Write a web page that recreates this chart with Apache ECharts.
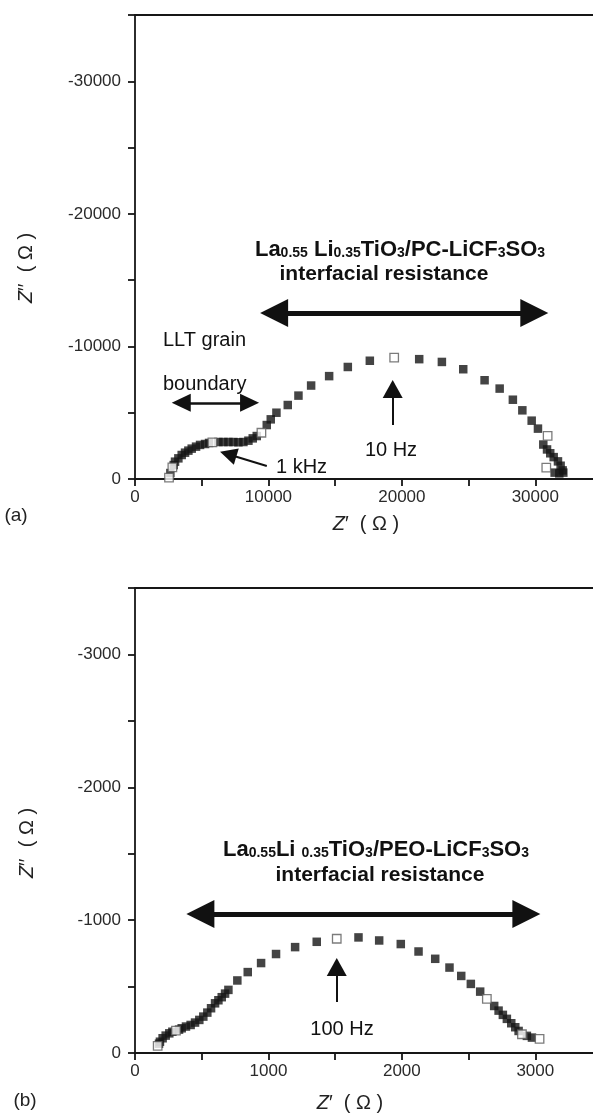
<!DOCTYPE html>
<html>
<head>
<meta charset="utf-8">
<script src="https://cdn.jsdelivr.net/npm/echarts@6/dist/echarts.min.js"></script>
<style>
html, body { margin: 0; padding: 0; background: #fff; }
#main { width: 593px; height: 1116px; }
</style>
</head>
<body>
<div id="main"></div>
<script>
// (a) LLT / PC-LiCF3SO3 impedance, Z' and Z'' in ohm
var pcFilled = [
    [2650, -450], [2900, -1050], [3000, -1306], [3250, -1558], [3500, -1810], [3750, -1985],
    [4000, -2140], [4250, -2290], [4575, -2440], [4875, -2570], [5250, -2640], [5550, -2720],
    [6250, -2790], [6625, -2790], [7000, -2790], [7375, -2790], [7750, -2770], [8125, -2790],
    [8500, -2890], [8825, -3065], [9125, -3240], [9875, -4070], [10175, -4500], [10600, -5000],
    [11450, -5580], [12250, -6290], [13200, -7050], [14550, -7760], [15950, -8450], [17600, -8920],
    [21300, -9040], [23000, -8830], [24600, -8280], [26200, -7450], [27330, -6820], [28320, -5980],
    [29030, -5180], [29730, -4400], [30200, -3800], [30600, -2600], [30880, -2230], [31120, -1940],
    [31380, -1650], [31700, -1330], [31900, -1000], [32050, -650], [31450, -480], [31800, -420],
    [32100, -480]
];
var pcOpen = [[2550, -100], [2800, -880], [5800, -2765], [9475, -3490], [19425, -9150], [30925, -3250], [30825, -855]];

// (b) LLT / PEO-LiCF3SO3
var peoFilled = [
    [180, -70], [187, -85], [207, -111], [230, -131], [257, -148], [280, -160], [330, -176],
    [350, -186], [382, -199], [417, -211], [450, -229], [482, -249], [512, -274], [542, -304],
    [570, -337], [600, -374], [625, -397], [650, -420], [675, -447], [700, -475], [767, -546],
    [845, -609], [945, -677], [1057, -745], [1200, -797], [1362, -837], [1675, -870], [1830, -847],
    [1992, -820], [2125, -764], [2250, -709], [2357, -643], [2445, -580], [2517, -520], [2587, -462],
    [2692, -354], [2725, -319], [2757, -287], [2787, -257], [2820, -224], [2850, -194], [2875, -166],
    [2937, -129], [2975, -116]
];
var peoOpen = [[170, -53], [307, -168], [1512, -860], [2637, -407], [2900, -141], [3032, -106]];

var pcXLabels = [0, 10000, 20000, 30000];
var pcYLabels = [0, -10000, -20000, -30000];
var peoXLabels = [0, 1000, 2000, 3000];
var peoYLabels = [0, -1000, -2000, -3000];

var FONT = '"Liberation Sans", Arial, Helvetica, sans-serif';
var INK = '#161616';

function onlyLabels(list) {
    return function (v) {
        return list.indexOf(v) >= 0 ? String(v) : '';
    };
}

function bottomAxis(grid, max, step, labels) {
    return {
        gridIndex: grid, type: 'value', position: 'bottom', min: 0, max: max, interval: step,
        axisLine: { show: true, onZero: false, lineStyle: { color: INK, width: 1.8 } },
        axisTick: { show: true, length: 7, lineStyle: { color: INK, width: 1.8 } },
        axisLabel: { margin: 10, fontSize: 17, color: '#2a2a2a', fontFamily: FONT, formatter: onlyLabels(labels) },
        splitLine: { show: false }
    };
}
function topAxis(grid, max) {
    return {
        gridIndex: grid, type: 'value', position: 'top', min: 0, max: max,
        axisLine: { show: true, onZero: false, lineStyle: { color: INK, width: 1.8 } },
        axisTick: { show: false }, axisLabel: { show: false }, splitLine: { show: false }
    };
}
function leftAxis(grid, min, step, labels) {
    return {
        gridIndex: grid, type: 'value', inverse: true, min: min, max: 0, interval: step,
        axisLine: { show: true, onZero: false, lineStyle: { color: INK, width: 1.8 } },
        axisTick: { show: true, length: 7, lineStyle: { color: INK, width: 1.8 } },
        axisLabel: { margin: 14, fontSize: 17, color: '#2a2a2a', fontFamily: FONT, formatter: onlyLabels(labels) },
        splitLine: { show: false }
    };
}

function arrow(x1, y1, x2, y2, width, headFrom, headTo, size) {
    return [
        { coord: [x1, y1], symbol: headFrom ? 'triangle' : 'none', symbolSize: size, lineStyle: { width: width, color: '#111', type: 'solid' } },
        { coord: [x2, y2], symbol: headTo ? 'triangle' : 'none', symbolSize: size }
    ];
}

function marks(list) {
    return {
        silent: true, animation: false, label: { show: false },
        lineStyle: { color: '#111', type: 'solid' }, itemStyle: { color: '#111' },
        emphasis: { disabled: true },
        data: list
    };
}

var filledStyle = { color: '#151515' };
var openStyle = { color: '#ffffff', borderColor: '#5a5a5a', borderWidth: 1.3 };

var myChart = echarts.init(document.getElementById('main'));

var option = {
    animation: false,
    backgroundColor: '#fff',
    grid: [
        { left: 135, top: 15, width: 467, height: 464, outerBoundsMode: 'none', containLabel: false },
        { left: 135, top: 588, width: 467, height: 465, outerBoundsMode: 'none', containLabel: false }
    ],
    xAxis: [
        bottomAxis(0, 35000, 5000, pcXLabels), topAxis(0, 35000),
        bottomAxis(1, 3500, 500, peoXLabels), topAxis(1, 3500)
    ],
    yAxis: [
        leftAxis(0, -35000, 5000, pcYLabels),
        leftAxis(1, -3500, 500, peoYLabels)
    ],
    series: [
        {
            type: 'scatter', xAxisIndex: 0, yAxisIndex: 0, data: pcFilled,
            symbol: 'rect', symbolSize: 8.5, itemStyle: filledStyle,
            markLine: marks([
                arrow(10425, -12520, 29925, -12520, 5, true, true, [28, 28]),
                arrow(3465, -5750, 8588, -5750, 2.5, true, true, [18, 19]),
                arrow(19313, -4070, 19313, -6790, 2, false, true, [20, 18]),
                arrow(9877, -980, 6983, -1870, 2, false, true, [17, 17])
            ])
        },
        {
            type: 'scatter', xAxisIndex: 0, yAxisIndex: 0, data: pcOpen, z: 3,
            symbol: 'rect', symbolSize: 8.5, itemStyle: openStyle
        },
        {
            type: 'scatter', xAxisIndex: 2, yAxisIndex: 1, data: peoFilled,
            symbol: 'rect', symbolSize: 8.5, itemStyle: filledStyle,
            markLine: marks([
                arrow(490, -1047, 2933, -1047, 5, true, true, [28, 28]),
                arrow(1512, -384, 1512, -648, 2, false, true, [20, 18])
            ])
        },
        {
            type: 'scatter', xAxisIndex: 2, yAxisIndex: 1, data: peoOpen, z: 3,
            symbol: 'rect', symbolSize: 8.5, itemStyle: openStyle
        }
    ],
    graphic: []
};

var bold = { fontSize: 22, fontWeight: 'bold', fontFamily: FONT, fill: '#111', verticalAlign: 'bottom', lineHeight: 25 };
var sub = { fontSize: 14, fontWeight: 'bold', fontFamily: FONT, fill: '#111', verticalAlign: 'bottom', lineHeight: 12 };
var axisRich = {
    i: { fontSize: 20, fontStyle: 'italic', fontFamily: FONT, fill: '#222' },
    n: { fontSize: 20, fontFamily: FONT, fill: '#222' }
};

function txt(x, y, text, opts) {
    var st = { text: text, x: 0, y: 0, fill: '#111', font: '20px ' + FONT, align: 'center', verticalAlign: 'middle' };
    for (var k in opts) st[k] = opts[k];
    return { type: 'text', x: x, y: y, style: st, silent: true };
}

option.graphic = [
    txt(400, 248, '{b|La}{s|0.55}{b| Li}{s|0.35}{b|TiO}{s|3}{b|/PC-LiCF}{s|3}{b|SO}{s|3}', { rich: { b: bold, s: sub } }),
    txt(384, 274, 'interfacial resistance', { font: 'bold 21px ' + FONT }),
    txt(163, 340, 'LLT grain', { align: 'left' }),
    txt(163, 384, 'boundary', { align: 'left' }),
    txt(391, 450, '10 Hz'),
    txt(276, 467, '1 kHz', { align: 'left' }),
    txt(16, 516, '(a)', { font: '19px ' + FONT, fill: '#222' }),
    txt(366, 524, '{i|Z}{n|\u2032  ( \u03a9 )}', { rich: axisRich }),
    { type: 'text', x: 26, y: 268, rotation: Math.PI / 2, silent: true,
      style: { text: '{i|Z}{n|\u2032\u2032  ( \u03a9 )}', rich: axisRich, align: 'center', verticalAlign: 'middle' } },

    txt(376, 848, '{b|La}{s|0.55}{b|Li }{s|0.35}{b|TiO}{s|3}{b|/PEO-LiCF}{s|3}{b|SO}{s|3}', { rich: { b: bold, s: sub } }),
    txt(380, 875, 'interfacial resistance', { font: 'bold 21px ' + FONT }),
    txt(342, 1029, '100 Hz'),
    txt(25, 1101, '(b)', { font: '19px ' + FONT, fill: '#222' }),
    txt(350, 1103, '{i|Z}{n|\u2032  ( \u03a9 )}', { rich: axisRich }),
    { type: 'text', x: 27, y: 843, rotation: Math.PI / 2, silent: true,
      style: { text: '{i|Z}{n|\u2032\u2032  ( \u03a9 )}', rich: axisRich, align: 'center', verticalAlign: 'middle' } }
];

myChart.setOption(option);
</script>
</body>
</html>
